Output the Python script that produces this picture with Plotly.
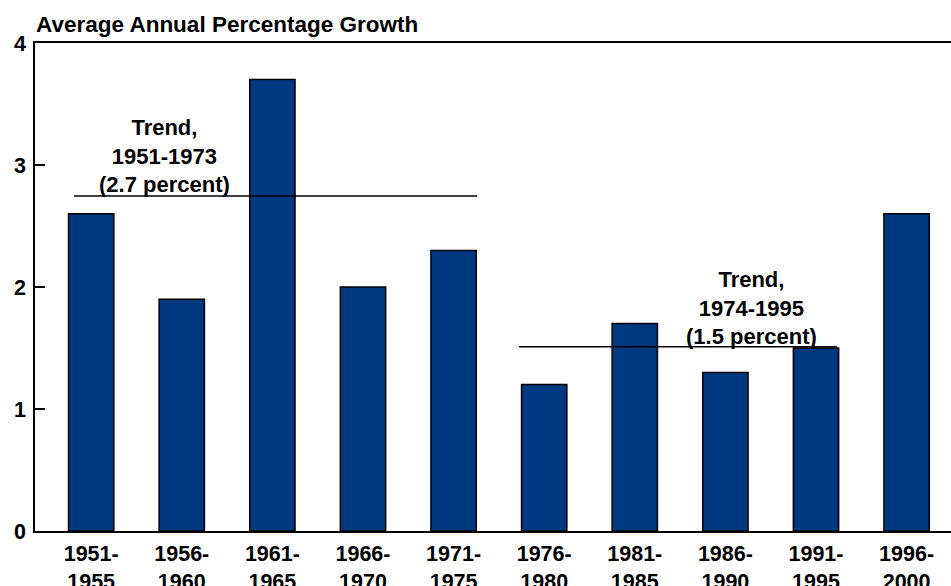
import plotly.graph_objects as go

periods = ["1951-<br>1955", "1956-<br>1960", "1961-<br>1965", "1966-<br>1970", "1971-<br>1975",
           "1976-<br>1980", "1981-<br>1985", "1986-<br>1990", "1991-<br>1995", "1996-<br>2000"]
growth = [2.6, 1.9, 3.7, 2.0, 2.3, 1.2, 1.7, 1.3, 1.5, 2.6]

# trend lines: value, start / end position in bar-index units
trend_values = [2.745, 1.51]
trend_start = [-0.19, 4.72]
trend_end = [4.26, 8.23]
trend_labels = ["Trend,<br>1951-1973<br>(2.7 percent)", "Trend,<br>1974-1995<br>(1.5 percent)"]
trend_label_x = [0.805, 7.29]
trend_label_y = [3.077, 1.83]

y_ticks = [0, 1, 2, 3, 4]

FONT = "Liberation Sans, Arial, sans-serif"
BAR = "#003882"

pos = list(range(len(periods)))

fig = go.Figure()
fig.add_trace(go.Bar(
    x=pos, y=growth, width=0.5,
    marker=dict(color=BAR, line=dict(color="black", width=1.5)),
    showlegend=False, hoverinfo="skip",
))
for v, s, e in zip(trend_values, trend_start, trend_end):
    fig.add_trace(go.Scatter(
        x=[s, e], y=[v, v], mode="lines",
        line=dict(color="black", width=1.5),
        showlegend=False, hoverinfo="skip",
    ))
for t, x, y in zip(trend_labels, trend_label_x, trend_label_y):
    fig.add_annotation(
        x=x, y=y, xref="x", yref="y", text=t, showarrow=False,
        xanchor="center", yanchor="middle", align="center",
        font=dict(family=FONT, size=22, color="black", weight="bold"),
    )

fig.add_annotation(
    x=0, y=1, xref="paper", yref="paper", xanchor="left", yanchor="bottom",
    xshift=-1, yshift=4, showarrow=False,
    text="Average Annual Percentage Growth",
    font=dict(family=FONT, size=22.5, color="black", weight="bold"),
)

fig.update_layout(
    width=951, height=586,
    margin=dict(l=35, r=0, t=43, b=55, autoexpand=False),
    plot_bgcolor="white", paper_bgcolor="white",
    font=dict(family=FONT, size=21.5, color="black", weight="bold"),
    bargap=0.5,
)
fig.update_xaxes(
    range=[-0.62, 9.49], tickvals=pos, ticktext=periods, automargin=False,
    showline=True, linecolor="black", linewidth=1.5, mirror=True,
    showgrid=False, zeroline=False, ticks="", ticklabelstandoff=2,
    tickfont=dict(family=FONT, size=21.5, color="black", weight="bold"),
)
fig.update_yaxes(
    range=[0, 4], tickvals=y_ticks, automargin=False,
    showline=True, linecolor="black", linewidth=1.5,
    showgrid=False, zeroline=False,
    ticks="inside", ticklen=10, tickwidth=1.5, tickcolor="black",
    ticklabelstandoff=3,
    tickfont=dict(family=FONT, size=21.5, color="black", weight="bold"),
)

# remove the page's default body margin so the figure sits at the window's corner
fig.write_html("out.html", config={"displayModeBar": False},
               post_script="document.body.style.margin='0';")
